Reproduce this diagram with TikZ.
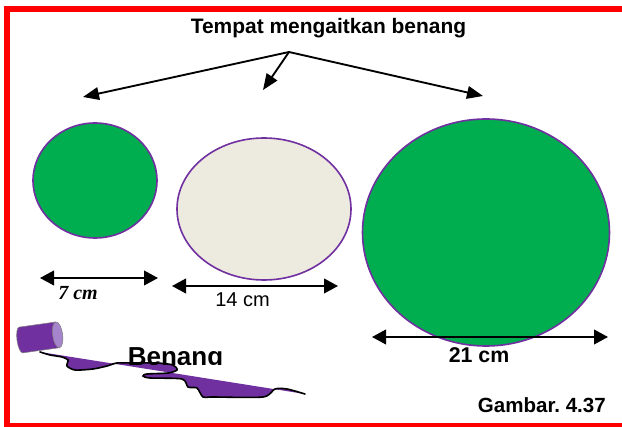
\documentclass[tikz,border=0pt]{standalone}
\usepackage{fontspec}
\setmainfont{Liberation Sans}
\newfontfamily\timesfont{Liberation Serif}
\usetikzlibrary{arrows.meta,shapes.geometric}
\definecolor{framered}{HTML}{FF0000}
\definecolor{discgreen}{HTML}{00AE50}
\definecolor{discbeige}{HTML}{EDEAE0}
\definecolor{rimpurple}{HTML}{7030A0}
\definecolor{spoolend}{HTML}{A585CC}
\tikzset{
  disc/.style={ellipse, draw=rimpurple, line width=1.2pt, inner sep=0pt},
  pointer/.style={line width=1.4pt, -{Triangle[length=12pt,width=9.5pt]}},
  measure/.style={line width=1.4pt, {Triangle[length=10.5pt,width=11pt]}-{Triangle[length=10.5pt,width=11pt]}},
  label/.style={inner sep=0pt, anchor=base},
}
\frenchspacing
\begin{document}
\begin{tikzpicture}[x=0.75pt,y=-0.75pt]
\clip (0,0) rectangle (622,427);
\fill[white] (0,0) rectangle (622,427);

% red frame (open on the right)
\draw[framered, line width=4.5pt] (700,9) -- (7,9) -- (7,426) -- (700,426);

% title and pointers to the three hooks
\node[label, font=\bfseries\fontsize{15.7}{18}\selectfont] (title) at (328.5,33.5) {Tempat mengaitkan benang};
\coordinate (apex) at (289,52);
\coordinate (hookA) at (83,97);
\coordinate (hookB) at (263,90);
\coordinate (hookC) at (483,96);
\draw[pointer] (apex) -- (hookA);
\draw[pointer] (apex) -- (hookB);
\draw[pointer] (apex) -- (hookC);

% discs (sizes in pt: 0.75 x pixel diameter)
\node[disc, fill=discgreen, minimum width=93pt, minimum height=86.25pt] (discS) at (95,180.5) {};
\node[disc, fill=discbeige, minimum width=130.5pt, minimum height=106.5pt] (discM) at (264,209) {};
\node[disc, fill=discgreen, minimum width=185.25pt, minimum height=170.25pt] (discL) at (486,232.5) {};

% diameter arrows
\coordinate (sL) at (40,278);  \coordinate (sR) at (158,278);
\coordinate (mL) at (172,286); \coordinate (mR) at (338,286);
\coordinate (bL) at (372,337); \coordinate (bR) at (608,337);
\draw[measure] (sL) -- (sR);
\draw[measure] (mL) -- (mR);
\draw[measure] (bL) -- (bR);
\node[label, font=\timesfont\bfseries\itshape\fontsize{15}{18}\selectfont] (lenS) at (78,300) {7 cm};
\node[label, font=\fontsize{15}{18}\selectfont] (lenM) at (242.5,306.5) {14 cm};
\node[label, font=\bfseries\fontsize{16}{18}\selectfont] (lenB) at (479,363) {21 cm};

% spool of thread
\begin{scope}[shift={(21,340)}, rotate=8]
  \fill[rimpurple] (0,-13) -- (37,-13) -- (37,13) -- (0,13) arc[start angle=90, end angle=270, x radius=4, y radius=13] -- cycle;
  \draw[gray, line width=0.4pt] (0,-13) -- (37,-13) (37,13) -- (0,13) arc[start angle=90, end angle=270, x radius=4, y radius=13];
  \fill[spoolend, draw=gray, line width=0.4pt] (37,0) ellipse [x radius=5, y radius=13];
\end{scope}

% unwound thread
\fill[rimpurple] plot[smooth, tension=0.45] coordinates {
  (40,352) (50,355) (62,357) (68,360) (67,366) (75,370) (93,369)
  (107,366) (117,363) (133,363) (157,363) (173,365) (177,370) (168,373)
  (147,374) (143,376) (150,378) (182,379) (188,387) (197,388) (203,397)
  (213,397) (263,397) (275,389) (287,389) (305,394)} -- cycle;
\draw[line width=1.2pt, line cap=round] plot[smooth, tension=0.45] coordinates {
  (40,352) (50,355) (62,357) (68,360) (67,366) (75,370) (93,369)
  (107,366) (117,363) (133,363) (157,363) (173,365) (177,370) (168,373)
  (147,374) (143,376) (150,378) (182,379) (188,387) (197,388) (203,397)
  (213,397) (263,397) (275,389) (287,389) (305,394)};

% thread label, cut off along its baseline
\begin{scope}
  \clip (100,330) rectangle (240,364.5);
  \node[label, font=\bfseries\fontsize{19.5}{22}\selectfont] (thread) at (175.5,365.5) {Benang};
\end{scope}

% caption
\node[label, anchor=base east, font=\bfseries\fontsize{15.4}{18}\selectfont] (caption) at (606,413) {Gambar. 4.37};
\end{tikzpicture}
\end{document}
